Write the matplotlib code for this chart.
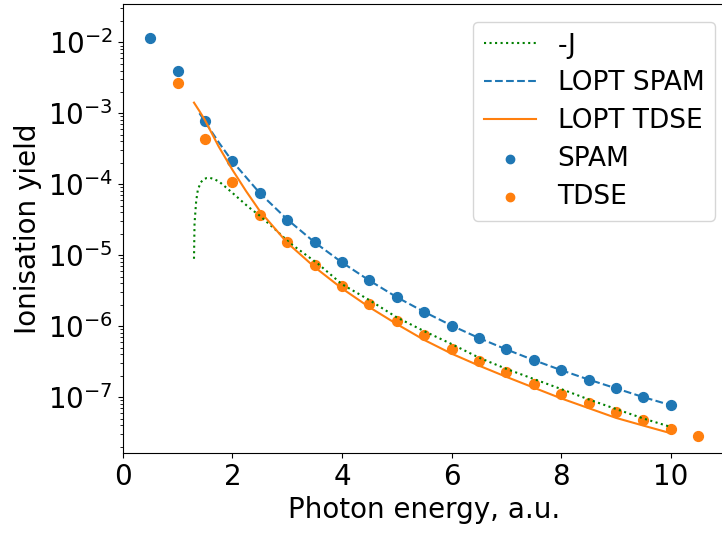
import matplotlib
matplotlib.use("Agg")
import matplotlib.pyplot as plt

# points
x_spam = [0.5, 1.0, 1.5, 2.0, 2.5, 3.0, 3.5, 4.0, 4.5, 5.0, 5.5, 6.0, 6.5, 7.0, 7.5, 8.0, 8.5, 9.0, 9.5, 10.0]
y_spam = [1.13e-2, 3.94e-3, 7.71e-4, 2.11e-4, 7.54e-5, 3.18e-5, 1.52e-5, 7.89e-6, 4.40e-6, 2.56e-6,
          1.59e-6, 1.02e-6, 6.78e-7, 4.70e-7, 3.32e-7, 2.40e-7, 1.77e-7, 1.33e-7, 1.00e-7, 7.71e-8]

x_tdse = [1.0, 1.5, 2.0, 2.5, 3.0, 3.5, 4.0, 4.5, 5.0, 5.5, 6.0, 6.5, 7.0, 7.5, 8.0, 8.5, 9.0, 9.5, 10.0, 10.5]
y_tdse = [2.65e-3, 4.27e-4, 1.08e-4, 3.74e-5, 1.53e-5, 7.16e-6, 3.66e-6, 2.04e-6, 1.20e-6, 7.46e-7,
          4.80e-7, 3.21e-7, 2.23e-7, 1.54e-7, 1.10e-7, 8.15e-8, 6.09e-8, 4.75e-8, 3.58e-8, 2.82e-8]

# curves
x_lopt_tdse = [1.3, 1.4, 1.5, 1.75, 2.0, 2.25, 2.5, 3.0, 3.5, 4.0, 4.5, 5.0, 5.5, 6.0, 6.5, 7.0, 7.5, 8.0, 8.5, 9.0, 9.5, 10.0]
y_lopt_tdse = [1.41e-3, 1.07e-3, 8.0e-4, 3.4e-4, 1.6e-4, 8.0e-5, 4.2e-5, 1.5e-5, 6.8e-6, 3.4e-6, 1.85e-6, 1.07e-6,
               6.4e-7, 4.1e-7, 2.78e-7, 1.93e-7, 1.36e-7, 9.6e-8, 7.0e-8, 5.1e-8, 3.97e-8, 3.1e-8]

x_lopt_spam = [1.4, 1.5, 1.75, 2.0, 2.5, 3.0, 3.5, 4.0, 4.5, 5.0, 5.5, 6.0, 6.5, 7.0, 7.5, 8.0, 8.5, 9.0, 9.5, 10.0]
y_lopt_spam = [1.0e-3, 7.6e-4, 3.9e-4, 2.1e-4, 7.5e-5, 3.2e-5, 1.52e-5, 7.9e-6, 4.4e-6, 2.56e-6,
               1.59e-6, 1.02e-6, 6.8e-7, 4.7e-7, 3.32e-7, 2.4e-7, 1.77e-7, 1.33e-7, 1.0e-7, 7.7e-8]

x_j = [1.30, 1.31, 1.34, 1.37, 1.42, 1.47, 1.53, 1.59, 1.68, 1.77, 1.98, 2.29, 2.5, 2.8, 3.05, 3.56, 4.0, 4.5,
       5.0, 5.5, 6.0, 6.5, 7.0, 7.5, 8.0, 8.5, 9.0, 9.5, 10.0]
y_j = [8.9e-6, 2.8e-5, 5.8e-5, 8.3e-5, 1.05e-4, 1.17e-4, 1.22e-4, 1.23e-4, 1.17e-4, 1.07e-4, 7.8e-5, 4.8e-5,
       3.6e-5, 2.24e-5, 1.48e-5, 7.6e-6, 3.9e-6, 2.33e-6, 1.33e-6, 8.5e-7, 5.6e-7, 3.6e-7, 2.5e-7, 1.8e-7,
       1.3e-7, 9.3e-8, 6.8e-8, 5.0e-8, 3.8e-8]

fig = plt.figure(figsize=(7.22, 5.33), dpi=100)
ax = fig.add_axes([0.170, 0.150, 0.835, 0.842])

ax.plot(x_j, y_j, ":", color="green", lw=1.5, label="-J")
ax.plot(x_lopt_spam, y_lopt_spam, "--", color="C0", lw=1.5, label="LOPT SPAM")
ax.plot(x_lopt_tdse, y_lopt_tdse, "-", color="C1", lw=1.5, label="LOPT TDSE")
ax.scatter(x_spam, y_spam, s=50, color="C0", label="SPAM")
ax.scatter(x_tdse, y_tdse, s=50, color="C1", label="TDSE")

ax.set_yscale("log")
ax.set_xlim(0, 11)
ax.set_ylim(1.63e-8, 3.43e-2)
ax.set_xticks([0, 2, 4, 6, 8, 10])
ax.tick_params(labelsize=20)
ax.set_xlabel("Photon energy, a.u.", fontsize=20)
ax.set_ylabel("Ionisation yield", fontsize=20)
ax.legend(loc="upper right", fontsize=19, markerscale=0.85, labelspacing=0.45,
          bbox_to_anchor=(1.004, 0.99))

fig.savefig("out.png", dpi=100)
